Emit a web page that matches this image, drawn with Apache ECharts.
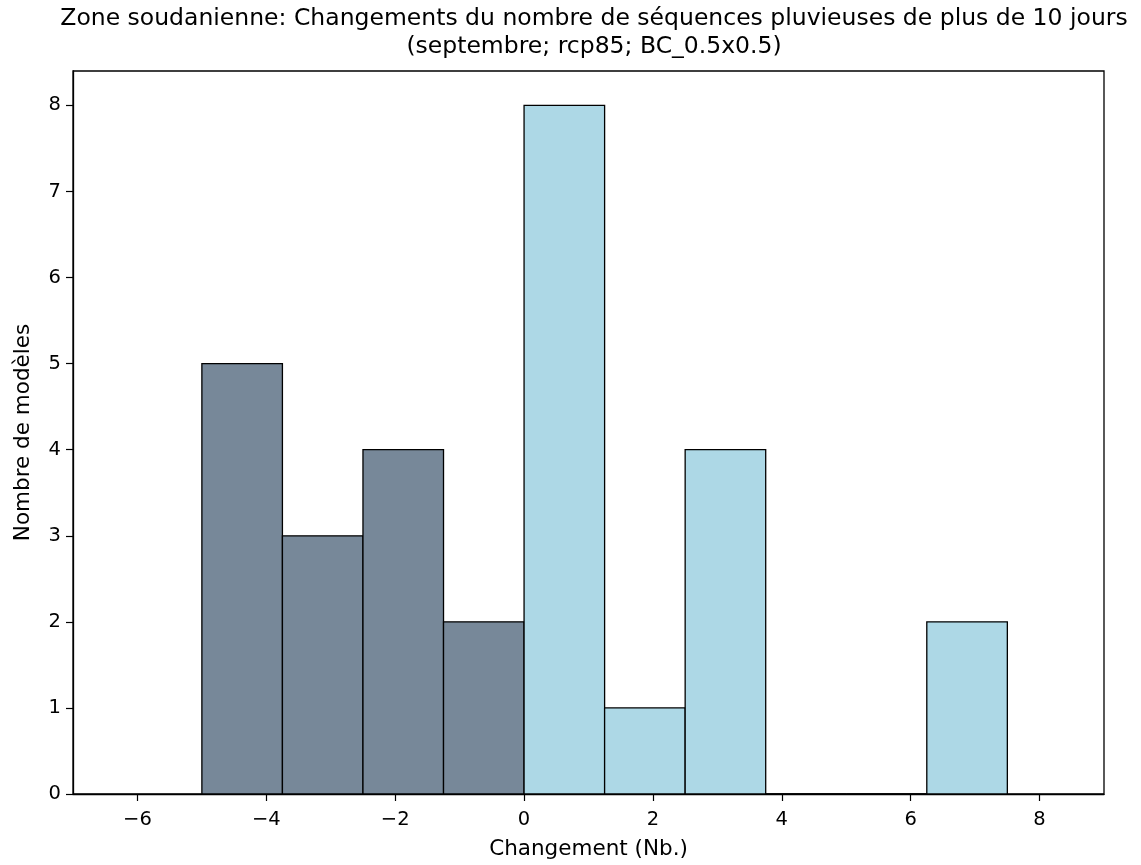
<!DOCTYPE html>
<html>
<head>
<meta charset="utf-8">
<script src="https://cdn.jsdelivr.net/npm/echarts@6/dist/echarts.min.js"></script>
<style>
html,body{margin:0;padding:0;background:#fff;}
#chart{width:1141px;height:865px;}
</style>
</head>
<body>
<div id="chart"></div>
<script>
// Histogram bins (left/right edges) and counts
var binLeft  = [-5, -3.75, -2.5, -1.25, 0, 1.25, 2.5, 3.75, 5, 6.25];
var binRight = [-3.75, -2.5, -1.25, 0, 1.25, 2.5, 3.75, 5, 6.25, 7.5];
var counts   = [5, 3, 4, 2, 8, 1, 4, 0, 0, 2];
var xTicks = [-6, -4, -2, 0, 2, 4, 6, 8];
var yTicks = [0, 1, 2, 3, 4, 5, 6, 7, 8];
var titleText = 'Zone soudanienne: Changements du nombre de séquences pluvieuses de plus de 10 jours\n(septembre; rcp85; BC_0.5x0.5)';
var xName = 'Changement (Nb.)';
var yName = 'Nombre de modèles';

var negData = [], posData = [];
for (var i = 0; i < counts.length; i++) {
  var item = [binLeft[i], binRight[i], counts[i]];
  if (binRight[i] <= 0) negData.push(item); else posData.push(item);
}

function renderBar(color) {
  return function (params, api) {
    var p0 = api.coord([api.value(0), 0]);
    var p1 = api.coord([api.value(1), api.value(2)]);
    return {
      type: 'rect',
      shape: { x: p0[0], y: p1[1], width: p1[0] - p0[0], height: p0[1] - p1[1] },
      style: { fill: color, stroke: '#000', lineWidth: 1.3 }
    };
  };
}

var font = 'DejaVu Sans';
var chart = echarts.init(document.getElementById('chart'), null, { renderer: 'canvas' });
chart.setOption({
  animation: false,
  backgroundColor: '#fff',
  title: {
    text: titleText,
    left: 594,
    top: 5,
    padding: 0,
    textAlign: 'center',
    textStyle: { fontFamily: font, fontSize: 23.5, fontWeight: 'normal', color: '#000', lineHeight: 28 }
  },
  grid: { left: 73, right: 37, top: 71, bottom: 70, show: true, borderColor: '#000', borderWidth: 1.3, backgroundColor: 'transparent' },
  xAxis: {
    type: 'value', min: -7, max: 9,
    name: xName, nameLocation: 'middle', nameGap: 44,
    nameTextStyle: { fontFamily: font, fontSize: 21.5, color: '#000' },
    splitLine: { show: false },
    axisLine: { show: true, onZero: false, lineStyle: { color: '#000', width: 1.3 } },
    axisTick: { show: true, customValues: xTicks, length: 7, lineStyle: { color: '#000', width: 1.2 } },
    axisLabel: { customValues: xTicks, fontFamily: font, fontSize: 19.5, color: '#000', margin: 16,
      formatter: function (v) { return String(v).replace('-', '\u2212'); } }
  },
  yAxis: {
    type: 'value', min: 0, max: 8.4,
    name: yName, nameLocation: 'middle', nameGap: 39,
    nameTextStyle: { fontFamily: font, fontSize: 21.5, color: '#000' },
    splitLine: { show: false },
    axisLine: { show: true, onZero: false, lineStyle: { color: '#000', width: 1.3 } },
    axisTick: { show: true, customValues: yTicks, length: 7, lineStyle: { color: '#000', width: 1.2 } },
    axisLabel: { customValues: yTicks, fontFamily: font, fontSize: 19.5, color: '#000', margin: 12 }
  },
  series: [
    { type: 'custom', name: 'neg', renderItem: renderBar('#778899'), encode: { x: [0, 1], y: 2 }, data: negData, z: 1 },
    { type: 'custom', name: 'pos', renderItem: renderBar('#ADD8E6'), encode: { x: [0, 1], y: 2 }, data: posData, z: 1 }
  ]
});
</script>
</body>
</html>
